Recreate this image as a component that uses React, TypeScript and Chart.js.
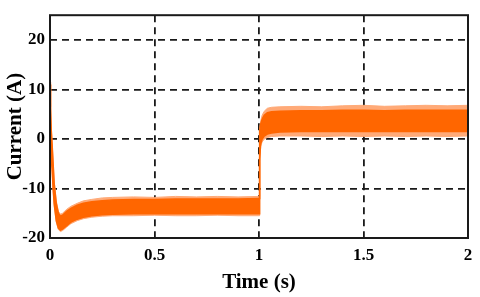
import React, { useEffect, useRef } from "react";
import { Chart, registerables } from "chart.js";

Chart.register(...registerables);

// Time samples (s)
const time = [
  0, 0.003, 0.006, 0.01, 0.015, 0.02, 0.03, 0.04, 0.05, 0.06,
  0.08, 0.1, 0.13, 0.16, 0.2, 0.25, 0.3, 0.4, 0.5, 0.6,
  0.7, 0.8, 0.9, 0.999, 1.0, 1.002, 1.004, 1.008, 1.015, 1.025,
  1.04, 1.06, 1.1, 1.2, 1.3, 1.4, 1.5, 1.6, 1.7, 1.8,
  1.9, 2.0,
];

// Dense (solid) ripple band of the current, upper and lower envelope (A)
const bandTop = [
  11, 6, 1.8, -1, -5, -9, -13, -15, -15.6, -15.4,
  -14.6, -14.0, -13.4, -13.0, -12.7, -12.5, -12.3, -12.2, -12.2, -12.1,
  -12.1, -12.1, -12.1, -12.0, -12.0, -1, 1.5, 3.0, 4.0, 4.8,
  5.3, 5.5, 5.6, 5.7, 5.7, 5.8, 5.8, 5.7, 5.8, 5.8,
  5.8, 5.8,
];
const bandBottom = [
  2, -1, -4, -6, -10, -13, -16.5, -18.0, -18.4, -18.2,
  -17.5, -16.8, -16.2, -15.8, -15.5, -15.3, -15.2, -15.1, -15.1, -15.1,
  -15.1, -15.1, -15.1, -15.1, -15.1, -10, -4, -1, 0, 0.6,
  1.0, 1.2, 1.4, 1.5, 1.5, 1.5, 1.5, 1.5, 1.5, 1.5,
  1.5, 1.5,
];

// Sparse spike fringe around the band (A)
const fringeTop = [
  11.5, 6.5, 2.2, -0.5, -4.5, -8.5, -12.5, -14.6, -15.2, -15.0,
  -14.2, -13.6, -13.0, -12.5, -12.2, -11.9, -11.8, -11.7, -11.8, -11.6,
  -11.7, -11.6, -11.7, -11.6, -11.6, -0.5, 2, 3.6, 4.8, 5.6,
  6.2, 6.4, 6.5, 6.6, 6.5, 6.7, 6.8, 6.6, 6.7, 6.8,
  6.7, 6.8,
];
const fringeBottom = [
  1.5, -1.5, -4.5, -6.5, -10.5, -13.5, -16.8, -18.3, -18.7, -18.5,
  -17.8, -17.1, -16.5, -16.1, -15.8, -15.6, -15.5, -15.5, -15.4, -15.5,
  -15.5, -15.4, -15.5, -15.5, -15.5, -10.5, -4.5, -1.5, -0.6, 0,
  0.3, 0.5, 0.6, 0.6, 0.5, 0.6, 0.5, 0.6, 0.5, 0.6,
  0.5, 0.6,
];

const xTicks = [0, 0.5, 1, 1.5, 2];
const yTicks = [-20, -10, 0, 10, 20];

const FONT = "'Liberation Serif', 'Times New Roman', serif";
const ORANGE = "rgb(255,102,0)";
const FRINGE = "rgb(255,170,120)";

const pts = (ys: number[]) => time.map((t, i) => ({ x: t, y: ys[i] }));

const frame = {
  id: "frame",
  afterDraw(chart: any) {
    const { ctx, chartArea: a } = chart;
    ctx.save();
    ctx.strokeStyle = "#1a1a1a";
    ctx.lineWidth = 2;
    ctx.setLineDash([]);
    ctx.strokeRect(a.left, a.top, a.right - a.left, a.bottom - a.top);
    ctx.restore();
  },
};

export default function App() {
  const ref = useRef<HTMLCanvasElement | null>(null);

  useEffect(() => {
    if (!ref.current) return;
    const chart = new Chart(ref.current, {
      type: "line",
      data: {
        datasets: [
          { data: pts(bandTop), borderColor: ORANGE, borderWidth: 1.5, pointRadius: 0, fill: false, order: 0 },
          { data: pts(bandBottom), borderColor: ORANGE, borderWidth: 1.5, pointRadius: 0, fill: "-1", backgroundColor: ORANGE, order: 0 },
          { data: pts(fringeTop), borderColor: FRINGE, borderWidth: 1, pointRadius: 0, fill: false, order: 1 },
          { data: pts(fringeBottom), borderColor: FRINGE, borderWidth: 1, pointRadius: 0, fill: "-1", backgroundColor: FRINGE, order: 1 },
        ],
      },
      options: {
        responsive: false,
        animation: false,
        layout: { padding: { top: 7, right: 12, left: 0, bottom: 0 } },
        plugins: { legend: { display: false }, tooltip: { enabled: false } },
        elements: { line: { tension: 0 } },
        scales: {
          x: {
            type: "linear",
            min: 0,
            max: 2,
            afterBuildTicks: (s: any) => { s.ticks = xTicks.map((v) => ({ value: v })); },
            afterFit: (s: any) => { s.height = 59; },
            grid: { color: "#1a1a1a", lineWidth: 1.8, drawTicks: false },
            border: { display: false, dash: [7, 5] },
            ticks: {
              color: "#000",
              padding: 7,
              maxRotation: 0,
              font: { family: FONT, size: 17, weight: "bold" },
              callback: (v: any) => String(v),
            },
            title: {
              display: true,
              text: "Time (s)",
              color: "#000",
              font: { family: FONT, size: 21, weight: "bold" },
              padding: { top: 0, bottom: 2 },
            },
          },
          y: {
            type: "linear",
            min: -20,
            max: 25,
            afterBuildTicks: (s: any) => { s.ticks = yTicks.map((v) => ({ value: v })); },
            afterFit: (s: any) => { s.width = 50; },
            grid: { color: "#1a1a1a", lineWidth: 1.8, drawTicks: false },
            border: { display: false, dash: [7, 5] },
            ticks: {
              color: "#000",
              padding: 5,
              font: { family: FONT, size: 17, weight: "bold" },
              callback: (v: any) => String(v),
            },
            title: {
              display: true,
              text: "Current (A)",
              color: "#000",
              font: { family: FONT, size: 21, weight: "bold" },
              padding: { top: 3, bottom: 0 },
            },
          },
        },
      },
      plugins: [frame],
    } as any);
    return () => chart.destroy();
  }, []);

  return (
    <div style={{ position: "fixed", left: 0, top: 0, width: 480, height: 297, background: "#fff" }}>
      <canvas ref={ref} width={480} height={297} style={{ display: "block" }} />
    </div>
  );
}
